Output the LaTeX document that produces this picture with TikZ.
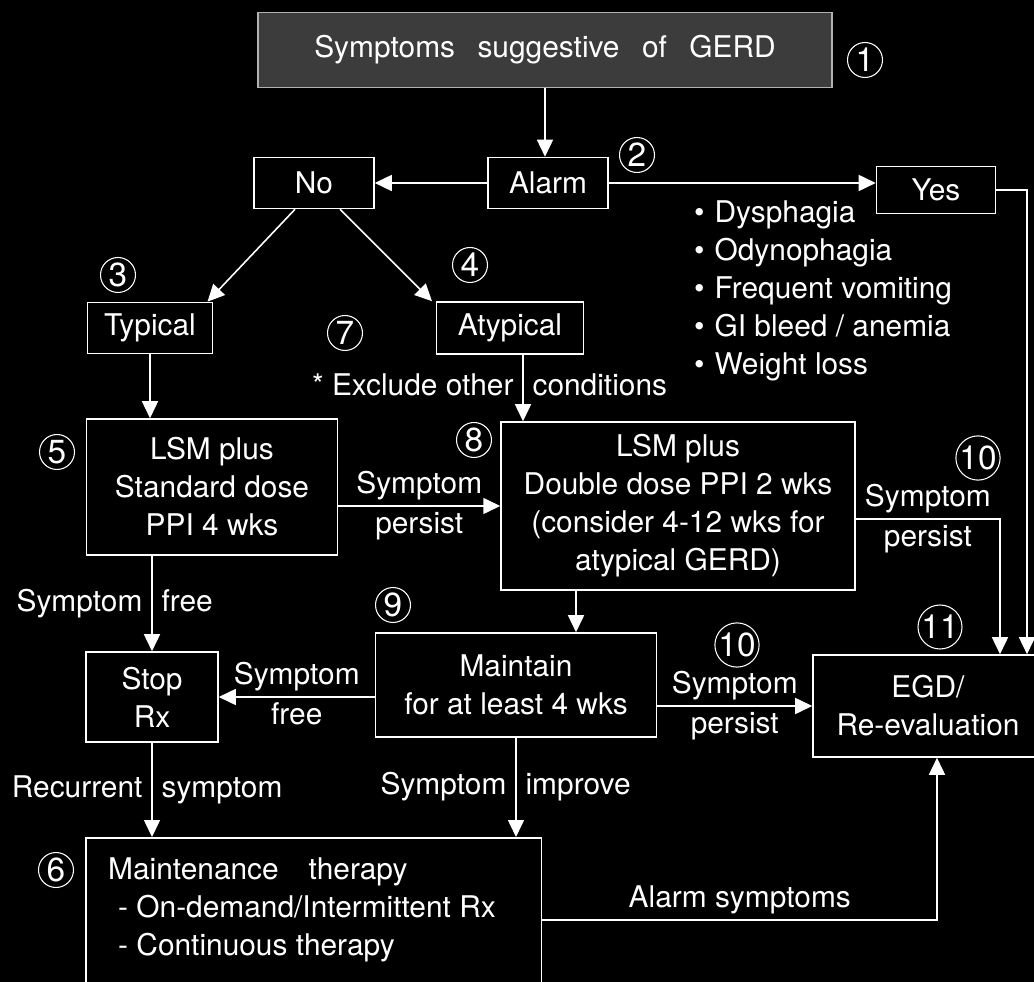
\documentclass[tikz,border=0pt]{standalone}
\usepackage{fontspec}
\setmainfont{TeX Gyre Heros}
\usetikzlibrary{arrows.meta}
\definecolor{gerdgray}{RGB}{60,60,60}

\begin{document}
\begin{tikzpicture}[x=0.02cm, y=-0.02cm, >={Triangle[length=0.34cm,width=0.32cm]},
    every node/.style={text=white, font=\fontsize{17}{21.6}\selectfont},
    box/.style={draw=white, line width=0.9pt, rectangle, align=center, inner sep=2pt},
    link/.style={->, white, line width=0.9pt},
    lbl/.style={inner xsep=5pt, inner ysep=3pt, text height=12.2pt, text depth=3.6pt},
    num/.style={circle, draw=white, line width=0.6pt, inner sep=0pt, minimum size=0.7cm, font=\fontsize{19}{19}\selectfont}]
    \useasboundingbox (0,0) rectangle (1034,982);
    \fill[black] (0,0) rectangle (1034,982);
    \clip (0,0) rectangle (1034,982);

    % boxes
    \node[box, fill=gerdgray, draw=gray!60, minimum width=11.48cm, minimum height=1.5cm] (gerd) at (545,50) {Symptoms\hspace{0.45cm}suggestive\hspace{0.45cm}of\hspace{0.45cm}GERD};
    \node[box, minimum width=2.4cm, minimum height=1.02cm] (alarm) at (548,183) {Alarm};
    \node[box, minimum width=2.4cm, minimum height=1.02cm] (no) at (314,183) {No};
    \node[box, minimum width=2.38cm, minimum height=0.94cm] (yes) at (936,190) {Yes};
    \node[anchor=west, align=left] (alarmlist) at (688,291) {\textbullet\hspace{0.2cm}Dysphagia\\ \textbullet\hspace{0.2cm}Odynophagia\\ \textbullet\hspace{0.2cm}Frequent vomiting\\ \textbullet\hspace{0.2cm}GI bleed / anemia\\ \textbullet\hspace{0.2cm}Weight loss};
    \node[box, minimum width=2.5cm, minimum height=1.02cm] (typical) at (150,328) {Typical};
    \node[box, minimum width=2.94cm, minimum height=1.04cm] (atypical) at (510,328) {Atypical};
    \node[box, minimum width=5.02cm, minimum height=2.72cm] (lsm1) at (212,487) {LSM plus\\Standard dose\\PPI 4 wks};
    \node[box, minimum width=7.08cm, minimum height=3.36cm] (lsm2) at (678,506) {LSM plus\\Double dose PPI 2 wks\\(consider 4-12 wks for\\atypical GERD)};
    \node[box, minimum width=2.64cm, minimum height=1.8cm] (stop) at (152,697) {Stop\\Rx};
    \node[box, minimum width=5.62cm, minimum height=2.08cm] (maintain) at (516,685) {Maintain\\for at least 4 wks};
    \node[box, minimum width=4.6cm, minimum height=2.04cm] (egd) at (928,706) {EGD/\\Re-evaluation};
    \node[box, anchor=north west, minimum width=9.12cm, minimum height=3.3cm] (mt) at (85,837) {};
    \node[anchor=west, align=left] (mttext) at (102,910) {Maintenance\quad therapy\\ \hspace{0.2cm}- On-demand/Intermittent Rx\\ \hspace{0.2cm}- Continuous therapy};

    % step numbers
    \node[num] (n1) at (865,60) {1};
    \node[num] (n2) at (637,155) {2};
    \node[num] (n3) at (118,275) {3};
    \node[num] (n4) at (470,265) {4};
    \node[num] (n5) at (57,452) {5};
    \node[num] (n6) at (56,870) {6};
    \node[num] (n7) at (345,333) {7};
    \node[num] (n8) at (474,440) {8};
    \node[num] (n9) at (393,605) {9};
    \node[num] (n10a) at (978,458) {10};
    \node[num] (n10b) at (737,645) {10};
    \node[num] (n11) at (940,627) {11};

    % connectors
    \draw[link] (gerd.south) -- (gerd.south |- alarm.north);
    \draw[link] (alarm.west) -- (no.east);
    \draw[link] (alarm.east) -- (alarm.east -| yes.west);
    \draw[link] (yes.east) -| (1027,0 |- egd.north);
    \draw[link] ([xshift=-0.38cm]no.south) -- ([xshift=1.15cm]typical.north);
    \draw[link] ([xshift=0.52cm]no.south) -- ([xshift=-1.56cm]atypical.north);
    \draw[link] (typical.south) -- (typical.south |- lsm1.north);
    \draw[link] ([xshift=0.26cm]atypical.south) -- ([xshift=0.26cm]atypical.south |- lsm2.north)
        node[lbl, midway, left] {* Exclude other} node[lbl, midway, right] {conditions};
    \draw[link] (lsm2.west -| lsm1.east) -- (lsm2.west)
        node[lbl, midway, above] {Symptom} node[lbl, midway, below] {persist};
    \draw[link] ([yshift=-0.26cm]lsm2.east) -| (1000,0 |- egd.north)
        node[lbl, pos=0.25, above] {Symptom} node[lbl, pos=0.25, below] {persist};
    \draw[link] (lsm1.south -| stop.north) -- (stop.north)
        node[lbl, midway, left] {Symptom} node[lbl, midway, right] {free};
    \draw[link] ([xshift=-2.04cm]lsm2.south) -- ([xshift=-2.04cm]lsm2.south |- maintain.north);
    \draw[link] (stop.east -| maintain.west) -- (stop.east)
        node[lbl, midway, above] {Symptom} node[lbl, midway, below] {free};
    \draw[link] (egd.west -| maintain.east) -- (egd.west)
        node[lbl, midway, above] {Symptom} node[lbl, midway, below] {persist};
    \draw[link] (stop.south) -- (stop.south |- mt.north)
        node[lbl, midway, left] {Recurrent} node[lbl, midway, right] {symptom};
    \draw[link] (maintain.south) -- (maintain.south |- mt.north)
        node[lbl, midway, left] {Symptom} node[lbl, midway, right] {improve};
    \draw[link] (mt.east) -| ([xshift=0.18cm]egd.south)
        node[lbl, pos=0.25, above] {Alarm symptoms};
\end{tikzpicture}
\end{document}
